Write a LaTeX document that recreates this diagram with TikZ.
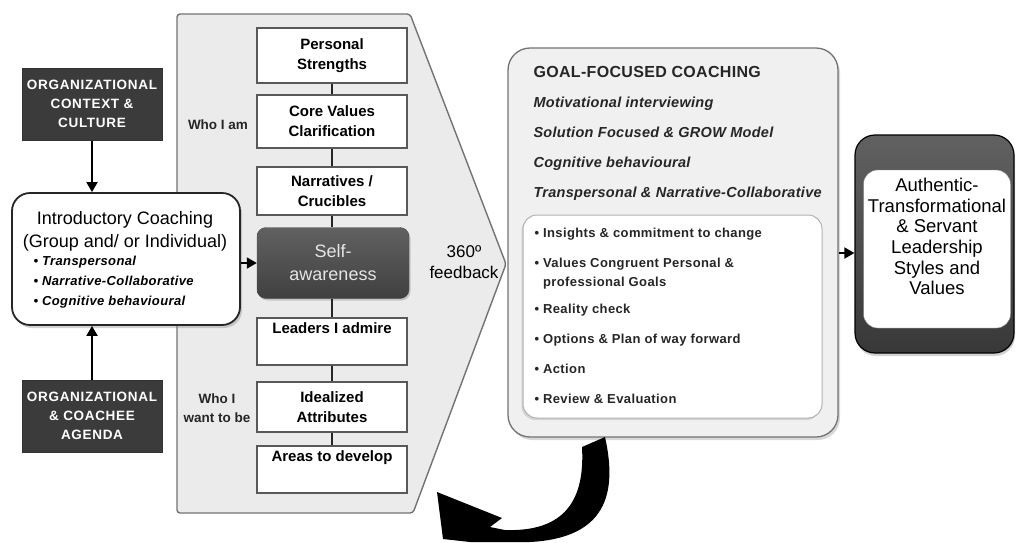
\documentclass[tikz,border=0pt]{standalone}
\usepackage{fontspec}
\setmainfont{Liberation Sans}
\usetikzlibrary{shadows,arrows.meta}
\begin{document}
\begin{tikzpicture}[x=1pt,y=-1pt,
  darkbox/.style={draw=black!80, fill=black!77, text=white, line width=1pt,
    minimum width=140pt, minimum height=72pt, align=center, inner sep=0pt,
    font=\bfseries\fontsize{13.5}{19}\selectfont\addfontfeature{LetterSpace=5}},
  wbox/.style={draw=black!65, fill=white, line width=1.2pt, minimum width=150pt,
    align=center, inner sep=0pt, font=\bfseries\fontsize{15}{20}\selectfont},
  sabox/.style={draw=black!70, top color=black!62, bottom color=black!75, text=black!10,
    rounded corners=9pt, minimum width=152pt, minimum height=71pt, align=center,
    font=\fontsize{18}{23}\selectfont,
    drop shadow={opacity=0.35, shadow xshift=1.5pt, shadow yshift=-2pt}},
  conn/.style={line width=2.2pt, draw=black!85},
  arr/.style={line width=1.8pt, draw=black, -{Triangle[length=10pt,width=11pt]}},
  lbl/.style={align=center, font=\bfseries\fontsize{13.5}{19}\selectfont, text=black!85},
  introbox/.style={draw=black!85, fill=white, line width=1.8pt, rounded corners=18pt,
    minimum width=228pt, minimum height=132pt,
    drop shadow={opacity=0.35, shadow xshift=2pt, shadow yshift=-3pt}},
  goalbox/.style={draw=black!55, fill=black!6, line width=1.3pt, rounded corners=22pt,
    minimum width=330pt, minimum height=389pt,
    drop shadow={opacity=0.3, shadow xshift=2pt, shadow yshift=-3pt}},
  inbox/.style={draw=black!30, fill=white, line width=1pt, rounded corners=14pt,
    minimum width=299pt, minimum height=203pt,
    drop shadow={opacity=0.25, shadow xshift=-1.5pt, shadow yshift=-2pt}},
  rbout/.style={draw=black, top color=black!62, bottom color=black!78, line width=1.2pt,
    rounded corners=20pt, minimum width=159pt, minimum height=218pt,
    drop shadow={opacity=0.35, shadow xshift=1pt, shadow yshift=-3pt}},
  rbin/.style={draw=black!50, fill=white, rounded corners=14pt,
    minimum width=147pt, minimum height=158pt}
]
\useasboundingbox (0,0) rectangle (1016,542);
\fill[white] (0,0) rectangle (1016,542);

% chevron panel
\draw[draw=black!55, fill=black!8, line width=1.4pt, rounded corners=3pt]
  (177,14) -- (410,14) -- (506,264) -- (413,513) -- (177,513) -- cycle;

% middle column
\node[wbox, minimum height=55pt] (ps) at (332,55.5) {Personal\\Strengths};
\node[wbox, minimum height=53pt] (cv) at (332,121.5) {Core Values\\Clarification};
\node[wbox, minimum height=48pt] (nc) at (332,191) {Narratives /\\Crucibles};
\node[sabox] (sa) at (333,263) {Self-\\awareness};
\node[wbox, minimum height=47pt] (la) at (332,341.5) {Leaders I admire\\ \strut};
\node[wbox, minimum height=50pt] (ia) at (332,407) {Idealized\\Attributes};
\node[wbox, minimum height=47pt] (ad) at (332,469.5) {Areas to develop\\ \strut};
\draw[conn] (ps.south) -- (cv.north);
\draw[conn] (cv.south) -- (nc.north);
\draw[conn] (nc.south) -- (nc.south |- sa.north);
\draw[conn] (la.north |- sa.south) -- (la.north);
\draw[conn] (la.south) -- (ia.north);
\draw[conn] (ia.south) -- (ad.north);

\node[lbl] (whoam) at (218,125) {Who I am};
\node[lbl] (whowant) at (217,408) {Who I\\want to be};
\node[align=center, font=\fontsize{17}{21}\selectfont] (fb) at (464,262) {360º\\feedback};

% left column
\node[darkbox] (ctx) at (92,104) {ORGANIZATIONAL\\CONTEXT \&\\CULTURE};
\node[introbox] (intro) at (126,259) {};
\node[darkbox] (agenda) at (92,416) {ORGANIZATIONAL\\\& COACHEE\\AGENDA};
\node[align=center, font=\fontsize{18}{23}\selectfont] (introt) at (125,231.5)
  {Introductory Coaching\\(Group and/ or Individual)};
\node[anchor=west, align=left, font=\bfseries\itshape\fontsize{13}{20}\selectfont\addfontfeature{LetterSpace=3}] (introb) at (30,282)
  {• Transpersonal\\• Narrative-Collaborative\\• Cognitive behavioural};
\draw[arr] (ctx.south) -- (ctx.south |- intro.north);
\draw[arr] (agenda.north) -- (agenda.north |- intro.south);
\draw[arr] (sa.west -| intro.east) -- (sa.west);

% goal-focused coaching
\node[goalbox] (goal) at (673,242.5) {};
\node[inbox] (inner) at (672.5,316.5) {};
\node[anchor=west, align=left, font=\bfseries\itshape\fontsize{14.5}{30}\selectfont\addfontfeature{LetterSpace=2}, text=black!85] (goalt) at (530,133)
  {{\upshape\fontsize{16}{30}\selectfont GOAL-FOCUSED COACHING}\\
   Motivational interviewing\\
   Solution Focused \& GROW Model\\
   Cognitive behavioural\\
   Transpersonal \& Narrative-Collaborative};
\node[anchor=west, align=left, font=\bfseries\fontsize{13}{19}\selectfont\addfontfeature{LetterSpace=3}, text=black!85] (goalb) at (531,316)
  {• Insights \& commitment to change\\[11pt]
   • Values Congruent Personal \&\\
   \hphantom{• }professional Goals\\[8pt]
   • Reality check\\[11pt]
   • Options \& Plan of way forward\\[11pt]
   • Action\\[11pt]
   • Review \& Evaluation};

% right box
\node[rbout] (rb) at (934.5,244) {};
\node[rbin] (rbin) at (937,249) {};
\node[align=center, font=\fontsize{18.5}{20.6}\selectfont] (rbt) at (937,236.5)
  {Authentic-\\Transformational\\\& Servant\\Leadership\\Styles and\\Values};
\draw[arr] ([yshift=-4pt]rbin.west -| goal.east) -- ([yshift=-4pt]rbin.west -| rb.west);

% curved feedback arrow
\fill[black] (605,437) .. controls (618,495) and (605,538) .. (530,542)
  -- (470,542) -- (443,539) -- (437,492) -- (502,518) -- (490,527) -- (505,530)
  .. controls (565,532) and (585,500) .. (582,447) -- cycle;
\end{tikzpicture}
\end{document}
